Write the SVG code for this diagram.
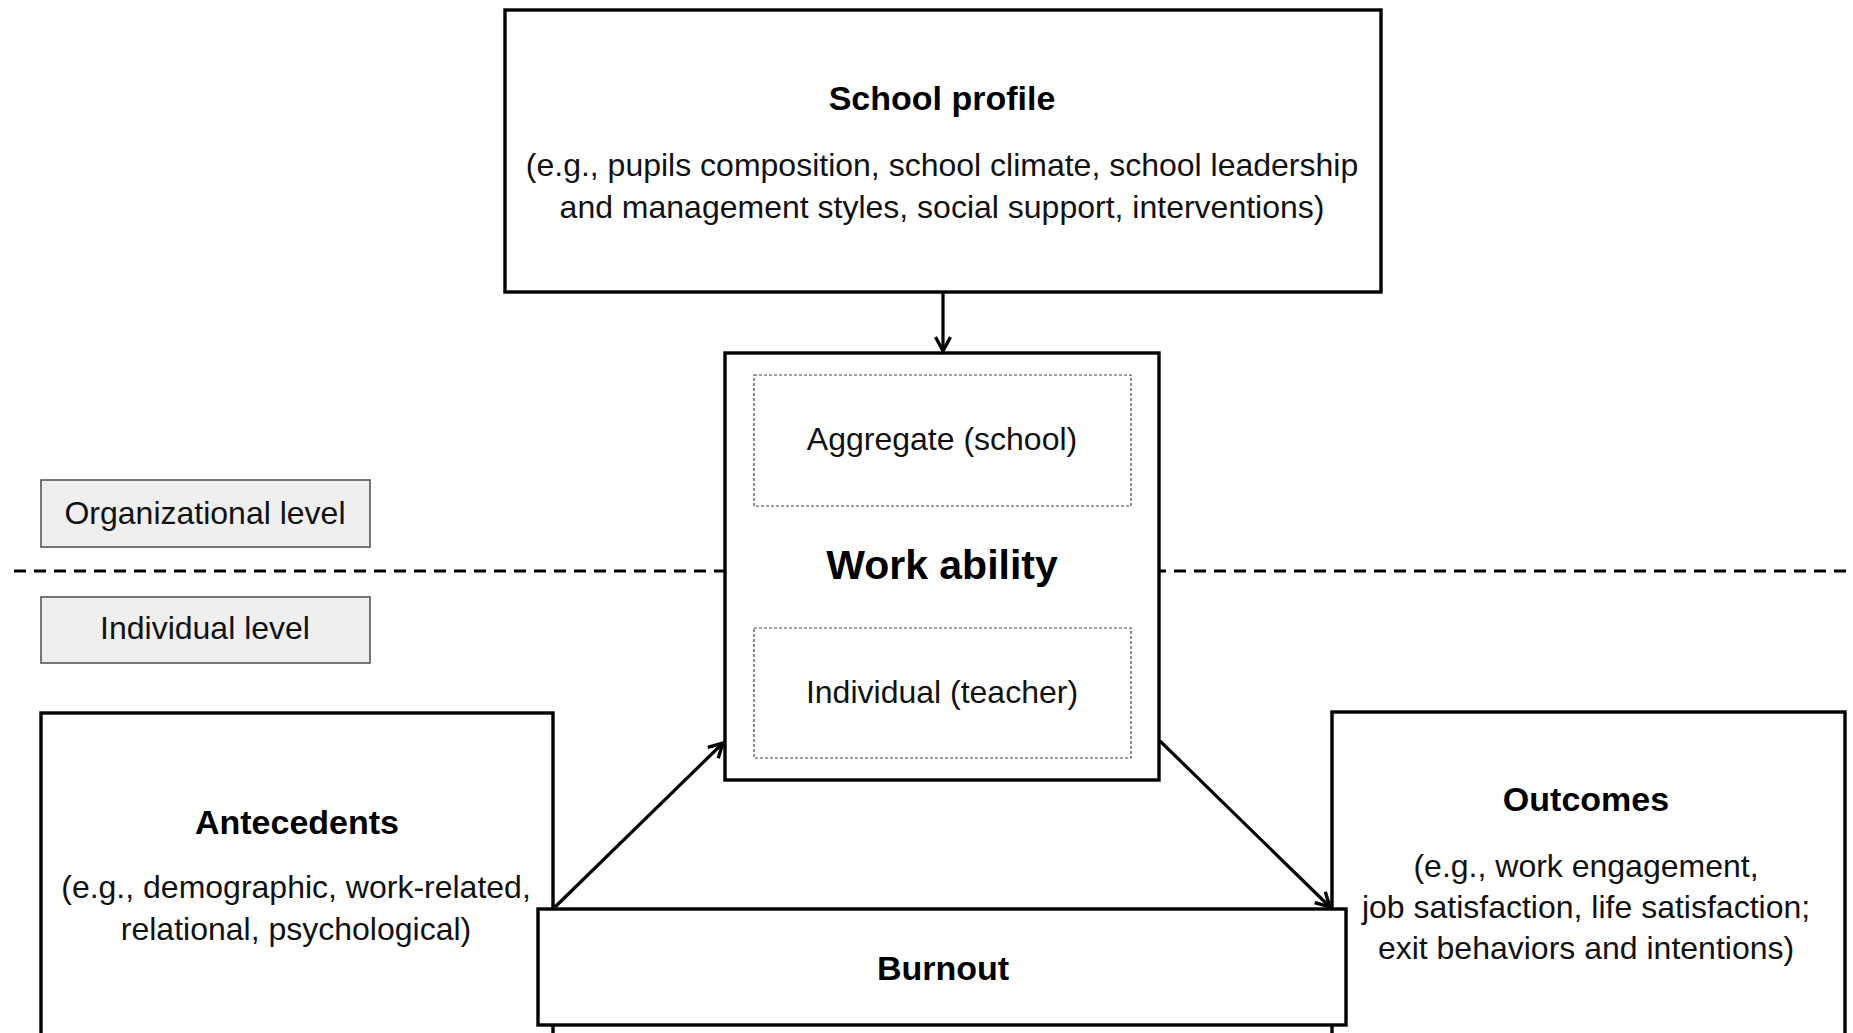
<svg xmlns="http://www.w3.org/2000/svg" width="1853" height="1033" viewBox="0 0 1853 1033">
<style>
.box{fill:#fff;stroke:#000;stroke-width:3.4}
.inner{fill:#fff;stroke:#444;stroke-width:1.2;stroke-dasharray:3 2}
.lvl{fill:#efefef;stroke:#555;stroke-width:1.6}
.t{font-family:"Liberation Sans",Arial,sans-serif;font-size:32px;fill:#111;text-anchor:middle}
.b{font-family:"Liberation Sans",Arial,sans-serif;font-size:34px;font-weight:bold;fill:#000;text-anchor:middle}
.conn{stroke:#000;stroke-width:3.2;fill:none}
</style>
<defs>
<marker id="arr" markerUnits="userSpaceOnUse" markerWidth="22" markerHeight="22" refX="16" refY="9" orient="auto">
<path d="M2,1.5 L16,9 L2,16.5" fill="none" stroke="#000" stroke-width="3.4"/>
</marker>
</defs>
<rect width="1853" height="1033" fill="#fff"/>
<line x1="14" y1="571" x2="1853" y2="571" stroke="#000" stroke-width="3" stroke-dasharray="12 8"/>
<g id="antecedents">
<rect class="box" x="41" y="713" width="512" height="400"/>
<text class="b" x="297" y="834">Antecedents</text>
<text class="t" x="296" y="898">(e.g., demographic, work-related,</text>
<text class="t" x="296" y="940">relational, psychological)</text>
</g>
<g id="outcomes">
<rect class="box" x="1332" y="712" width="513" height="400"/>
<text class="b" x="1586" y="811">Outcomes</text>
<text class="t" x="1586" y="877">(e.g., work engagement,</text>
<text class="t" x="1586" y="918">job satisfaction, life satisfaction;</text>
<text class="t" x="1586" y="959">exit behaviors and intentions)</text>
</g>
<g id="burnout">
<rect class="box" x="538" y="909" width="808" height="116"/>
<text class="b" x="943" y="980">Burnout</text>
</g>
<g id="school-profile">
<rect class="box" x="505" y="10" width="876" height="282"/>
<text class="b" x="942" y="110">School profile</text>
<text class="t" x="942" y="176">(e.g., pupils composition, school climate, school leadership</text>
<text class="t" x="942" y="218">and management styles, social support, interventions)</text>
</g>
<g id="work-ability">
<rect class="box" x="725" y="353" width="434" height="427"/>
<rect class="inner" x="754" y="375" width="377" height="131"/>
<text class="t" x="942" y="450">Aggregate (school)</text>
<text class="b" x="942" y="579" style="font-size:41px">Work ability</text>
<rect class="inner" x="754" y="628" width="377" height="130"/>
<text class="t" x="942" y="703">Individual (teacher)</text>
</g>
<g id="organizational-level">
<rect class="lvl" x="41" y="480" width="329" height="67"/>
<text class="t" x="205" y="524">Organizational level</text>
</g>
<g id="individual-level">
<rect class="lvl" x="41" y="597" width="329" height="66"/>
<text class="t" x="205" y="639">Individual level</text>
</g>
<g id="connectors">
<line class="conn" x1="943" y1="293" x2="943" y2="351" marker-end="url(#arr)"/>
<line class="conn" x1="555" y1="907" x2="723" y2="743" marker-end="url(#arr)"/>
<line class="conn" x1="1160" y1="741" x2="1330" y2="907" marker-end="url(#arr)"/>
</g>
</svg>
